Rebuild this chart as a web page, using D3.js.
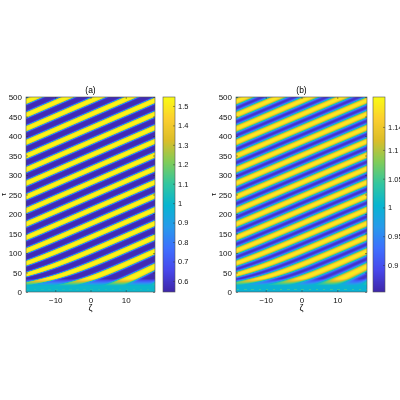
<!DOCTYPE html>
<html><head><meta charset="utf-8">
<script src="https://cdn.jsdelivr.net/npm/d3@7"></script>
<style>body{margin:0;background:#fff}#wrap{position:relative;width:400px;height:400px}canvas,svg{position:absolute;left:0;top:0}</style>
</head><body><div id="wrap"><canvas id="cv" width="400" height="400"></canvas><svg id="sv" width="400" height="400"></svg></div>
<script>
// data
const panels = ["(a)", "(b)"];
const zetaDomain = [-18.3, 18.3];
const tauDomain = [0, 500];
const xTicks = [-10, 0, 10];
const yTicks = [0, 50, 100, 150, 200, 250, 300, 350, 400, 450, 500];
const colorDomainA = [0.543, 1.546];
const colorDomainB = [0.853, 1.192];
const colorTicksA = [0.6, 0.7, 0.8, 0.9, 1, 1.1, 1.2, 1.3, 1.4, 1.5];
const colorTicksB = [0.9, 0.95, 1, 1.05, 1.1, 1.14];
const colorTickLabelsB = ["0.9", "0.95", "1", "1.05", "1.1", "1.14"];
const stripePeriod = [35, 35];          // τ spacing of stripes
const stripeSlope = [3.9, 3.9];         // τ per ζ along a stripe
const stripeLow = [0.56, 0.87];
const stripeHigh = [1.54, 1.18];
const stripeSteep = [2.6, 1.0];         // plateau steepness of the stripe profile
const stripeBias = [-0.2, 0.1];         // shift toward dark (-) or bright (+)
const onsetTau = [16, 16];
const parula = ["#3e26a8","#4747eb","#3e6ffe","#279aeb","#08b5d0","#32c69f","#80cc59","#dcbd29","#fccf30","#f9fb14"];

const cmap = d3.scaleLinear().domain(d3.range(parula.length).map(i=>i/(parula.length-1))).range(parula).interpolate(d3.interpolateRgb).clamp(true);
const layout = [{x0:26,x1:155,cb:163},{x0:236,x1:367,cb:373}];
const yTop=97, yBot=292, cbW=12;
const ctx = document.getElementById("cv").getContext("2d");
const svg = d3.select("#sv");
const font = "Helvetica, Arial, 'Liberation Sans', sans-serif";

panels.forEach((title,p)=>{
  const L = layout[p];
  const x = d3.scaleLinear().domain(zetaDomain).range([L.x0, L.x1]);
  const y = d3.scaleLinear().domain(tauDomain).range([yBot, yTop]);
  const cd = p===0?colorDomainA:colorDomainB;
  const cnorm = d3.scaleLinear().domain(cd).range([0,1]);
  const W=L.x1-L.x0, H=yBot-yTop;
  const k=stripeSteep[p], b=stripeBias[p];
  const lo=Math.tanh(k*(-1+b)), hi=Math.tanh(k*(1+b));
  const img = ctx.createImageData(W, H);
  for(let py=0; py<H; py++){
    const tau = y.invert(yTop+py+0.5);
    for(let px=0; px<W; px++){
      const z = x.invert(L.x0+px+0.5);
      const t = tau-onsetTau[p];
      let v;
      if(t<0){
        v = 1.0 + ((Math.floor(tau)%6===0 && Math.floor(z*1.5)%3===0)?0.04:0);
      } else {
        const ramp = Math.min(1, t/18);
        const f = 1-0.35*Math.exp(-t/35);
        const ph = 2*Math.PI*(tau - stripeSlope[p]*z*f)/stripePeriod[p];
        const prof = (Math.tanh(k*(Math.cos(ph)+b))-lo)/(hi-lo);
        const full = stripeLow[p] + (stripeHigh[p]-stripeLow[p])*prof;
        v = 1.0 + (full-1.0)*ramp;
      }
      const c = d3.rgb(cmap(cnorm(v)));
      const i = (py*W+px)*4;
      img.data[i]=c.r; img.data[i+1]=c.g; img.data[i+2]=c.b; img.data[i+3]=255;
    }
  }
  ctx.putImageData(img, L.x0, yTop);
  const cbs = d3.scaleLinear().domain(cd).range([yBot, yTop]);
  for(let py=yTop; py<yBot; py++){
    ctx.fillStyle = cmap(cnorm(cbs.invert(py+0.5)));
    ctx.fillRect(L.cb, py, cbW, 1);
  }
  const g = svg.append("g").attr("font-family",font).attr("font-size",8);
  g.append("rect").attr("x",L.x0).attr("y",yTop).attr("width",W).attr("height",H).attr("fill","none").attr("stroke","#555").attr("stroke-width",0.6);
  g.append("g").attr("transform",`translate(0,${yBot})`).call(d3.axisBottom(x).tickValues(xTicks).tickSize(-2).tickPadding(5));
  g.append("g").attr("transform",`translate(${L.x0},0)`).call(d3.axisLeft(y).tickValues(yTicks).tickSize(-2).tickPadding(4));
  g.append("g").attr("transform",`translate(0,${yTop})`).call(d3.axisTop(x).tickValues(xTicks).tickSize(-2).tickFormat(""));
  g.append("g").attr("transform",`translate(${L.x1},0)`).call(d3.axisRight(y).tickValues(yTicks).tickSize(-2).tickFormat(""));
  g.selectAll(".domain").remove();
  g.selectAll(".tick line").attr("stroke","#333").attr("stroke-width",0.5);
  g.selectAll("text").attr("font-family",font).attr("font-size",8).attr("fill","#111");
  g.append("text").attr("x",(L.x0+L.x1)/2).attr("y",yTop-4).attr("text-anchor","middle").attr("font-size",8.5).text(title);
  g.append("text").attr("x",(L.x0+L.x1)/2).attr("y",yBot+19).attr("text-anchor","middle").attr("font-size",9).text("ζ");
  g.append("text").attr("transform",`translate(${L.x0-20},${(yTop+yBot)/2}) rotate(-90)`).attr("text-anchor","middle").attr("font-size",8).text("τ");
  const ct = p===0?colorTicksA:colorTicksB;
  const cg = g.append("g").attr("transform",`translate(${L.cb+cbW},0)`).call(d3.axisRight(cbs).tickValues(ct).tickSize(-2).tickPadding(3).tickFormat((d,i)=>p===0?d3.format("")(d):colorTickLabelsB[i]));
  cg.select(".domain").remove();
  cg.selectAll("text").attr("font-family",font).attr("font-size",7.5).attr("fill","#111");
  cg.selectAll(".tick line").attr("stroke","#333").attr("stroke-width",0.5);
  g.append("rect").attr("x",L.cb).attr("y",yTop).attr("width",cbW).attr("height",H).attr("fill","none").attr("stroke","#555").attr("stroke-width",0.6);
});
</script></body></html>
